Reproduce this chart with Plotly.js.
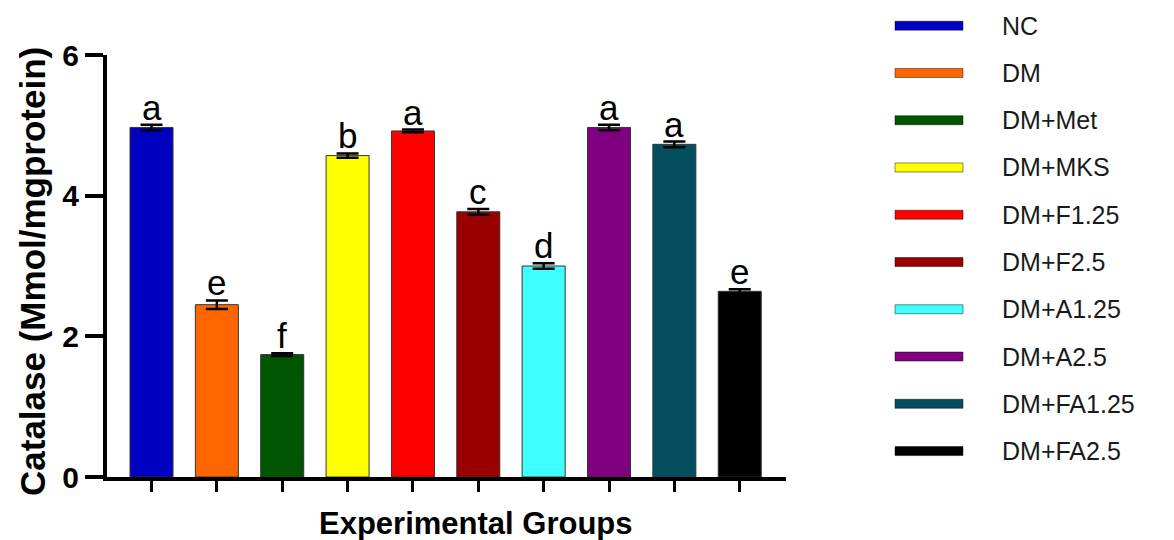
<!DOCTYPE html>
<html>
<head>
<meta charset="utf-8">
<script src="https://cdn.plot.ly/plotly-3.0.1.min.js"></script>
<style>html,body{margin:0;padding:0;background:#fff;}#chart{width:1174px;height:540px;}</style>
</head>
<body>
<div id="chart"></div>
<script>
// ---- data ----
const categories = ['NC','DM','DM+Met','DM+MKS','DM+F1.25','DM+F2.5','DM+A1.25','DM+A2.5','DM+FA1.25','DM+FA2.5'];
const catalase = [4.97, 2.45, 1.74, 4.57, 4.92, 3.77, 3.00, 4.97, 4.73, 2.64];
const sem = [0.04, 0.06, 0.02, 0.03, 0.02, 0.04, 0.04, 0.04, 0.04, 0.03];
const letters = ['a','e','f','b','a','c','d','a','a','e'];
const yTicks = [0, 2, 4, 6];
const xTitle = 'Experimental Groups';
const yTitle = 'Catalase (Mmol/mgprotein)';

// ---- style ----
const barColors = ['#0000C0','#FF6600','#005500','#FFFF00','#FF0000','#9A0000','#40FFFF','#800080','#034F60','#000000'];
const FONT = 'Arial, "Liberation Sans", sans-serif';
const L = 107, R = 786, T = 55, B = 477, W = 1174, H = 540;
const px = p => (p - L) / (R - L);
const py = p => (B - p) / (B - T);

const trace = {
  type: 'bar',
  x: categories,
  y: catalase,
  marker: {color: barColors, line: {color: '#333', width: 1}},
  error_y: {type: 'data', array: sem, visible: true, color: '#000', thickness: 2.5, width: 11},
  showlegend: false,
  hoverinfo: 'x+y'
};

const annotations = [];
const shapes = [];
categories.forEach((c, i) => {
  annotations.push({
    x: c, y: catalase[i] + sem[i], xref: 'x', yref: 'y',
    text: letters[i], showarrow: false, yanchor: 'bottom', yshift: -4,
    font: {family: FONT, size: 35, color: '#000'}
  });
  const rowY = 25.7 + 47.26 * i;
  shapes.push({
    type: 'rect', xref: 'paper', yref: 'paper',
    x0: px(895), x1: px(963), y0: py(rowY - 4.5), y1: py(rowY + 4.5),
    fillcolor: barColors[i], line: {color: 'rgba(0,0,0,0.45)', width: 1}
  });
  annotations.push({
    x: px(1000), y: py(rowY), xref: 'paper', yref: 'paper',
    text: c, showarrow: false, xanchor: 'left', yanchor: 'middle',
    font: {family: FONT, size: 25, color: '#1a1a1a'}
  });
});

annotations.push({
  x: px(476), y: py(523), xref: 'paper', yref: 'paper',
  text: '<b>' + xTitle + '</b>', showarrow: false, xanchor: 'center', yanchor: 'middle',
  font: {family: FONT, size: 31, color: '#000'}
});
annotations.push({
  x: px(32), y: py(272), xref: 'paper', yref: 'paper',
  text: '<b>' + yTitle + '</b>', showarrow: false, textangle: -90,
  xanchor: 'center', yanchor: 'middle',
  font: {family: FONT, size: 35, color: '#000'}
});

const layout = {
  width: W, height: H,
  margin: {l: L, r: W - R, t: T, b: H - B, pad: 0},
  paper_bgcolor: '#fff', plot_bgcolor: '#fff',
  bargap: 0.342,
  xaxis: {
    type: 'category', range: [-0.681, 9.708],
    showline: true, linecolor: '#000', linewidth: 4,
    ticks: 'outside', ticklen: 11, tickwidth: 3, tickcolor: '#000',
    showticklabels: false, showgrid: false, zeroline: false, fixedrange: true
  },
  yaxis: {
    range: [0, 6], tickvals: yTicks, ticktext: yTicks.map(v => '<b>' + v + '</b>'),
    showline: true, linecolor: '#000', linewidth: 4,
    ticks: 'outside', ticklen: 18, tickwidth: 4, tickcolor: '#000',
    tickfont: {family: FONT, size: 30, color: '#000'},
    showgrid: false, zeroline: false, fixedrange: true
  },
  annotations: annotations,
  shapes: shapes,
  showlegend: false
};

Plotly.newPlot('chart', [trace], layout, {displayModeBar: false, staticPlot: true});
</script>
</body>
</html>
